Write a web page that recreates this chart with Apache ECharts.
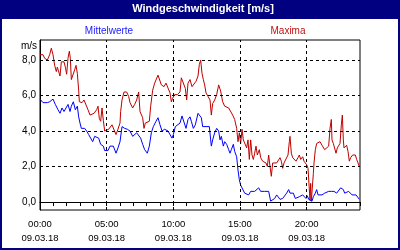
<!DOCTYPE html>
<html><head><meta charset="utf-8">
<script src="https://cdn.jsdelivr.net/npm/echarts@6/dist/echarts.min.js"></script>
<style>html,body{margin:0;padding:0;background:#fff}#c{width:400px;height:250px}</style>
</head><body><div id="c"></div>
<script>
const titleText = 'Windgeschwindigkeit [m/s]';
const unitLabel = 'm/s';
const dateLabel = '09.03.18';
const xGridHours = [5, 10, 15, 20];
const yTickValues = [0, 2, 4, 6, 8];
const meanName = 'Mittelwerte';
const maxName = 'Maxima';

const maxTimes = [0,0.225,0.35,0.55,0.725,0.85,0.975,1.1,1.225,1.3,1.4,1.5,1.6,1.7,1.8,1.9,2.0,2.1,2.2,2.275,2.35,2.5,2.6,2.7,2.8,2.9,2.95,3.05,3.15,3.3,3.45,3.6,3.75,3.9,4.05,4.15,4.25,4.35,4.45,4.55,4.65,4.75,4.85,5.0,5.15,5.3,5.4,5.55,5.7,5.8,5.9,6.0,
6.05,6.15,6.3,6.5,6.65,6.75,6.95,7.1,7.25,7.4,7.5,7.6,7.7,7.8,7.9,8.05,8.2,8.3,8.45,8.6,8.75,8.85,9.0,9.1,9.3,9.45,9.6,9.75,9.85,9.95,10.1,10.3,10.5,10.6,10.75,10.9,11.0,11.1,11.25,11.4,11.55,11.7,11.85,11.95,
12.05,12.15,12.25,12.35,12.45,12.6,12.75,12.85,12.95,13.1,13.25,13.4,13.55,13.7,13.85,14.0,14.15,14.3,14.45,14.6,14.75,14.85,14.95,15.05,15.15,15.25,15.4,15.5,15.6,15.7,15.8,15.9,16.0,16.1,16.2,16.3,16.45,16.55,16.7,16.8,16.95,17.05,17.15,17.25,17.35,17.45,17.6,17.75,17.9,18.0,
18.1,18.2,18.3,18.45,18.6,18.7,18.75,18.85,18.95,19.05,19.2,19.35,19.45,19.55,19.7,19.8,19.9,20.0,20.1,20.2,20.25,20.3,20.35,20.45,20.5,20.55,20.65,20.75,20.85,21.0,21.15,21.25,21.35,21.5,21.65,21.75,21.85,21.9,22.0,22.1,22.2,22.3,22.4,22.5,22.6,22.675,22.75,22.8,22.9,23.0,23.1,23.2,23.3,23.45,23.55,23.65,23.75,23.85,23.95];
const maxValues = [8.3,8.3,8.1,8.0,8.3,8.67,8.3,7.7,7.35,7.6,7.7,7.1,7.9,7.8,7.9,7.6,7.2,8.1,8.5,8.1,6.9,7.0,7.45,7.7,7.25,6.3,5.65,5.75,5.6,5.75,5.65,5.2,4.9,4.9,5.0,4.9,5.2,5.4,4.7,4.55,5.3,4.6,4.0,4.0,4.1,4.0,4.35,4.35,3.8,4.0,4.1,4.45,
5.1,5.75,6.2,6.2,5.95,5.6,5.3,5.5,5.75,6.2,5.1,5.2,4.75,4.15,4.45,4.45,4.55,5.4,6.3,6.7,6.7,7.15,7.15,6.6,6.5,6.7,6.8,6.15,5.65,5.85,6.05,6.05,6.2,7.0,6.9,6.4,5.75,6.7,6.9,6.5,6.6,6.8,7.1,7.75,
8.0,7.25,6.9,6.6,6.15,5.95,5.75,4.9,5.55,5.75,6.05,6.6,6.25,5.65,5.4,5.5,5.3,5.2,4.9,4.65,4.15,3.4,3.9,3.3,4.1,3.5,3.6,3.05,3.5,2.4,3.5,2.65,2.4,2.75,3.15,2.65,2.95,2.5,2.3,2.4,2.2,2.0,2.65,2.0,1.45,2.2,2.3,2.2,2.2,2.5,
2.3,1.9,2.2,2.2,2.65,3.4,3.7,2.75,2.5,2.55,2.3,2.5,2.65,2.4,2.55,2.3,2.2,2.1,1.9,2.0,0.1,1.05,0.05,0.05,1.6,2.2,2.95,3.3,3.2,3.4,3.2,3.3,2.95,3.05,3.15,4.15,4.65,3.5,3.3,3.4,2.75,3.05,3.05,3.3,4.35,4.9,3.5,3.05,3.15,3.2,2.85,2.3,2.5,2.65,2.75,2.65,2.4,2.2,2.0];

const meanTimes = [0,0.225,0.55,0.725,0.975,1.15,1.35,1.5,1.65,1.8,1.95,2.1,2.25,2.35,2.5,2.65,2.8,2.9,3.0,3.1,3.25,3.35,3.5,3.65,3.8,3.95,4.1,4.25,4.4,4.55,4.75,4.85,5.1,5.25,5.5,5.7,5.85,6.0,
6.15,6.35,6.55,6.75,6.95,7.1,7.25,7.4,7.55,7.7,7.85,8.05,8.2,8.35,8.5,8.7,8.85,9.0,9.15,9.35,9.5,9.6,9.75,9.9,10.0,10.15,10.3,10.5,10.65,10.8,10.95,11.1,11.25,11.35,11.5,11.65,11.85,12.0,
12.1,12.2,12.45,12.7,12.8,12.85,12.95,13.1,13.25,13.4,13.5,13.6,13.75,13.85,14.0,14.15,14.25,14.35,14.5,14.6,14.75,14.85,14.95,15.05,15.2,15.35,15.5,15.65,15.8,15.95,16.1,16.25,16.4,16.55,16.7,16.85,17.0,17.15,17.3,17.45,17.6,17.75,17.9,18.0,
18.2,18.35,18.5,18.65,18.75,18.85,19.0,19.15,19.3,19.45,19.6,19.7,19.8,19.95,20.05,20.15,20.25,20.4,20.5,20.65,20.75,20.85,21.0,21.15,21.35,21.5,21.65,21.85,22.05,22.25,22.4,22.55,22.65,22.75,22.85,23.0,23.15,23.3,23.4,23.55,23.7,23.85,23.95];
const meanValues = [5.8,5.6,5.6,5.65,5.8,5.5,5.2,5.0,5.3,5.1,5.2,5.5,5.1,5.4,5.65,5.2,5.4,4.8,4.45,4.15,4.1,4.15,4.0,3.8,3.7,3.4,3.7,3.8,3.6,3.25,3.15,2.9,2.9,3.15,3.15,2.75,3.05,3.4,
4.25,4.15,4.1,4.0,3.7,3.6,3.9,4.0,3.6,3.25,2.95,2.75,3.15,3.9,4.25,4.55,4.75,4.35,4.0,4.1,4.1,4.0,4.0,3.6,3.8,4.25,4.15,4.45,4.85,4.75,4.15,4.65,4.8,4.55,4.15,4.35,5.0,5.0,
4.75,4.25,4.25,4.25,3.5,3.15,3.5,3.9,4.15,4.0,3.5,3.7,3.15,3.4,3.25,2.95,2.75,2.95,3.25,2.85,2.55,1.8,1.25,0.95,0.9,0.5,0.6,0.4,0.6,0.5,0.6,0.7,0.8,0.6,0.5,0.6,0.5,0.6,0.05,0.05,0.2,0.4,0.4,0.15,
0.2,0.3,0.5,0.7,0.5,0.4,0.5,0.2,0.15,0.3,0.2,0.4,0.5,0.2,0.35,0.15,0.05,0.05,0.3,0.5,0.7,0.4,0.3,0.4,0.5,0.5,0.6,0.6,0.6,0.5,0.5,0.8,0.9,0.7,0.5,0.5,0.6,0.6,0.4,0.3,0.4,0.4,0.15];

const FONT = '"Liberation Sans", Arial, sans-serif';
const chart = echarts.init(document.getElementById('c'), null, {renderer: 'canvas'});
const pad = h => (h < 10 ? '0' : '') + h + ':00';
const gridStyle = {color: '#000', width: 1, type: [3, 3]};

chart.setOption({
  animation: false,
  backgroundColor: '#ffffff',
  grid: {left: 40, top: 40, width: 320, height: 170, show: true, borderColor: '#000', borderWidth: 1, backgroundColor: 'transparent'},
  xAxis: {
    type: 'value', min: 0, max: 24, interval: 1,
    axisLine: {show: true, lineStyle: {color: '#000', width: 1}},
    axisTick: {show: true, inside: false, length: 4, lineStyle: {color: '#000'}},
    splitLine: {show: false},
    axisLabel: {
      interval: 0, margin: 7, color: '#000', fontFamily: FONT, fontSize: 9.5, lineHeight: 14,
      formatter: v => (v % 5 === 0 && v < 24) ? pad(v) + '\n' + dateLabel : ''
    }
  },
  yAxis: {
    type: 'value', min: -0.45, max: 9.13,
    axisLine: {show: true, lineStyle: {color: '#000', width: 1}},
    axisTick: {show: false},
    splitLine: {show: false},
    axisLabel: {
      show: true, margin: 4, color: '#000', fontFamily: FONT, fontSize: 10,
      customValues: yTickValues,
      formatter: v => v.toFixed(1).replace('.', ',')
    }
  },
  graphic: [
    {type: 'rect', shape: {x: 0, y: 0, width: 400, height: 19}, style: {fill: '#000080'}, z: 10},
    {type: 'rect', shape: {x: 1, y: 1, width: 398, height: 248}, style: {fill: 'none', stroke: '#000080', lineWidth: 2}, z: 10},
    {type: 'text', x: 203, y: 9, z: 11, style: {text: titleText, fill: '#ffffff', font: 'bold 11px ' + FONT, align: 'center', verticalAlign: 'middle'}},
    {type: 'text', x: 109, y: 31, z: 11, style: {text: meanName, fill: '#2020ff', font: '10px ' + FONT, align: 'center', verticalAlign: 'middle'}},
    {type: 'text', x: 288, y: 31, z: 11, style: {text: maxName, fill: '#c01010', font: '10px ' + FONT, align: 'center', verticalAlign: 'middle'}},
    {type: 'text', x: 37, y: 46, z: 11, style: {text: unitLabel, fill: '#000', font: '10px ' + FONT, align: 'right', verticalAlign: 'middle'}}
  ],
  series: [
    {
      type: 'line', name: 'grid', data: [], z: 1, silent: true,
      markLine: {
        silent: true, symbol: 'none', animation: false, label: {show: false},
        lineStyle: gridStyle,
        data: xGridHours.map(h => ({xAxis: h})).concat(yTickValues.map(v => ({yAxis: v})))
      }
    },
    {
      type: 'line', name: maxName, z: 3, showSymbol: false, symbol: 'none',
      lineStyle: {color: '#c00000', width: 1}, itemStyle: {color: '#c00000'},
      data: maxTimes.map((t, i) => [t, maxValues[i]])
    },
    {
      type: 'line', name: meanName, z: 4, showSymbol: false, symbol: 'none',
      lineStyle: {color: '#0000ff', width: 1}, itemStyle: {color: '#0000ff'},
      data: meanTimes.map((t, i) => [t, meanValues[i]])
    }
  ]
});
</script>
</body></html>
